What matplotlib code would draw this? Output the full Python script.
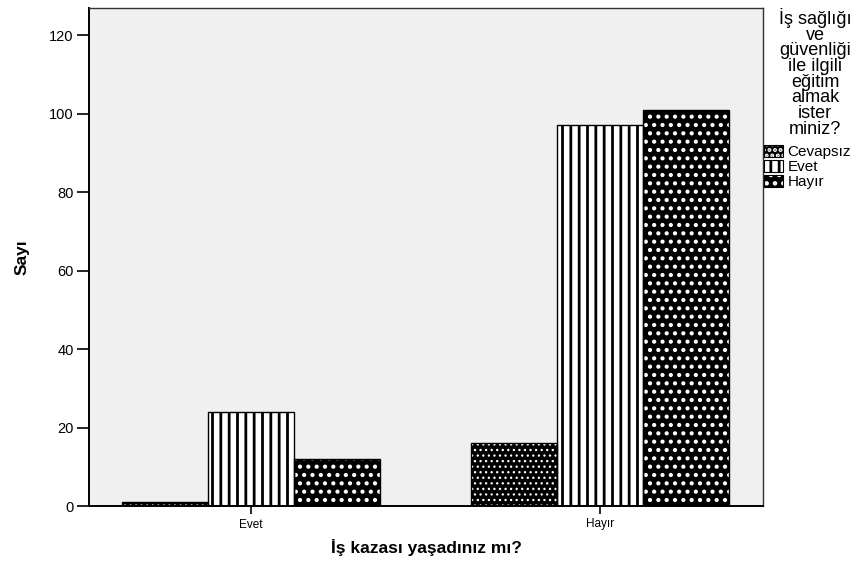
import matplotlib
matplotlib.use("Agg")
import matplotlib.pyplot as plt
import numpy as np
from matplotlib.patches import Patch
from matplotlib.legend_handler import HandlerTuple

plt.rcParams['font.family'] = ['Liberation Sans', 'DejaVu Sans']
plt.rcParams['hatch.linewidth'] = 2.0

categories = ["Evet", "Hayır"]
series_names = ["Cevapsız", "Evet", "Hayır"]
values = {
    "Cevapsız": [1, 16],
    "Evet": [24, 97],
    "Hayır": [12, 101],
}
yticks = [0, 20, 40, 60, 80, 100, 120]

# fill colour, hatch colour, hatch pattern, hatch line width for each answer
styles = {
    "Cevapsız": ("black", "white", "...", 0.9),
    "Evet": ("white", "black", "||", 2.0),
    "Hayır": ("black", "white", "..", 1.8),
}


def set_hatch_width(patch, lw):
    if hasattr(patch, "set_hatch_linewidth"):
        patch.set_hatch_linewidth(lw)


fig = plt.figure(figsize=(8.66, 5.61), dpi=100)
ax = fig.add_axes([89 / 866, 1 - 506 / 561, (763 - 89) / 866, (506 - 8) / 561])
ax.set_facecolor("#f0f0f0")

x = np.arange(len(categories))
width = 0.247
for i, name in enumerate(series_names):
    face, hcol, hatch, hlw = styles[name]
    pos = x + (i - 1) * width
    bars = ax.bar(pos, values[name], width, color=face, edgecolor=hcol,
                  hatch=hatch, linewidth=0, zorder=2)
    for b in bars:
        set_hatch_width(b, hlw)
    ax.bar(pos, values[name], width, facecolor="none", edgecolor="black",
           linewidth=1.0, zorder=3)

ax.set_xlim(-0.464, 1.467)
ax.set_ylim(0, 126.9)
ax.set_xticks(x)
ax.set_xticklabels(categories, fontsize=8.5)
ax.set_yticks(yticks)
ax.set_yticklabels([str(t) for t in yticks], fontsize=10.5)
ax.tick_params(axis="y", direction="out", length=9, width=1.2, pad=2)
ax.tick_params(axis="x", direction="out", length=6, width=1.2, pad=3)

for side in ("left", "bottom"):
    ax.spines[side].set_linewidth(1.4)
    ax.spines[side].set_color("black")
for side in ("top", "right"):
    ax.spines[side].set_linewidth(1.0)
    ax.spines[side].set_color("#333333")

ax.set_xlabel("İş kazası yaşadınız mı?", fontsize=12.5, fontweight="bold", labelpad=6)
ax.set_ylabel("Sayı", fontsize=12.5, fontweight="bold", labelpad=14)

# legend title and entries to the right of the plot
fig.text(815 / 866, 1 - 8 / 561,
         "İş sağlığı\nve\ngüvenliği\nile ilgili\neğitim\nalmak\nister\nminiz?",
         ha="center", va="top", fontsize=13, linespacing=0.9)

handles = []
for name in series_names:
    face, hcol, hatch, hlw = styles[name]
    fill = Patch(facecolor=face, edgecolor=hcol, hatch=hatch, linewidth=0)
    set_hatch_width(fill, hlw)
    outline = Patch(facecolor="none", edgecolor="black", linewidth=0.8)
    handles.append((fill, outline))
fig.legend(handles, series_names, loc="upper left",
           handler_map={tuple: HandlerTuple(ndivide=1)},
           bbox_to_anchor=(764 / 866, 1 - 145 / 561), frameon=False,
           fontsize=11, handlelength=1.25, handleheight=0.8,
           handletextpad=0.3, labelspacing=0.05, borderpad=0, borderaxespad=0)

fig.savefig("out.png", dpi=100)
